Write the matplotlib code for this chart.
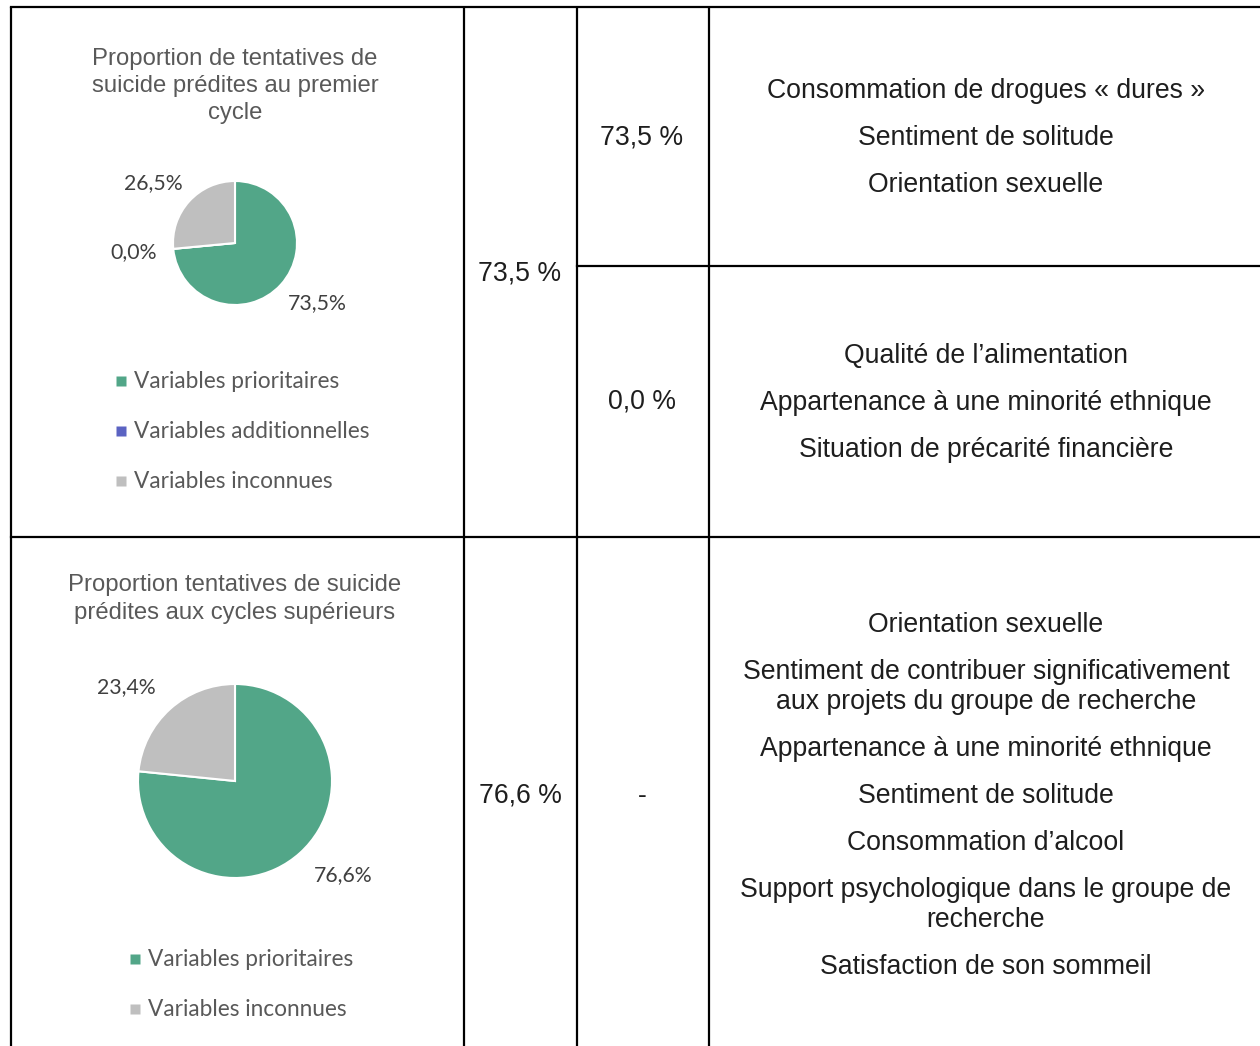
import matplotlib.pyplot as plt
import numpy as np

# pie chart data (percent)
cats_1 = ['Variables prioritaires', 'Variables additionnelles', 'Variables inconnues']
vals_1 = [73.5, 0.0, 26.5]
colors_1 = ['#52a688', '#5b63c2', '#bfbfbf']
cats_2 = ['Variables prioritaires', 'Variables inconnues']
vals_2 = [76.6, 23.4]
colors_2 = ['#52a688', '#bfbfbf']

title_1 = 'Proportion de tentatives de\nsuicide prédites au premier\ncycle'
title_2 = 'Proportion tentatives de suicide\nprédites aux cycles supérieurs'

# table cells
total_1 = '73,5 %'
total_2 = '76,6 %'
sub_1 = ['73,5 %', '0,0 %']
sub_2 = '-'
vars_1a = ['Consommation de drogues « dures »', 'Sentiment de solitude', 'Orientation sexuelle']
vars_1b = ['Qualité de l’alimentation', 'Appartenance à une minorité ethnique',
           'Situation de précarité financière']
vars_2 = ['Orientation sexuelle',
          'Sentiment de contribuer significativement\naux projets du groupe de recherche',
          'Appartenance à une minorité ethnique', 'Sentiment de solitude',
          'Consommation d’alcool',
          'Support psychologique dans le groupe de\nrecherche',
          'Satisfaction de son sommeil']

W, H = 1260, 1046
ARIAL = 'Liberation Sans'
CALIBRI = 'Lato'
GREY_TXT = '#595959'
TXT = '#1e1e1e'
FS_TAB = 19.2

fig = plt.figure(figsize=(W / 100, H / 100), dpi=100)
ax = fig.add_axes([0, 0, 1, 1])
ax.set_xlim(0, W)
ax.set_ylim(H, 0)
ax.axis('off')

# table grid
lw = 1.6
x_cols = [11, 464, 577, 709]
for x in x_cols:
    ax.plot([x, x], [7, H], color='black', lw=lw, solid_capstyle='butt')
ax.plot([x_cols[0], W], [7, 7], color='black', lw=lw)
ax.plot([x_cols[0], W], [537, 537], color='black', lw=lw)
ax.plot([x_cols[2], W], [266, 266], color='black', lw=lw)


def pct_fmt(p):
    return f'{p:.1f}%'.replace('.', ',')


def draw_pie(cx, cy, r, vals, colors, dist, rot=6):
    pax = fig.add_axes([(cx - r) / W, 1 - (cy + r) / H, 2 * r / W, 2 * r / H])
    wedges, texts, autotexts = pax.pie(vals, colors=colors, startangle=90, counterclock=False,
                                       autopct=pct_fmt, pctdistance=dist,
                                       wedgeprops=dict(edgecolor='white', linewidth=1.5))
    for v, t in zip(vals, autotexts):
        t.set_fontfamily(CALIBRI)
        t.set_fontsize(15.3)
        t.set_color('#404040')
        if v > 0:
            # excel "best fit" puts labels a bit off the wedge middle
            x, y = t.get_position()
            a = np.arctan2(y, x) + np.deg2rad(rot)
            d = np.hypot(x, y)
            t.set_position((d * np.cos(a), d * np.sin(a)))
    pax.set_xlim(-1, 1)
    pax.set_ylim(-1, 1)
    return wedges


def draw_legend(x, y0, step, cats, colors):
    for i, (c, col) in enumerate(zip(cats, colors)):
        y = y0 + i * step
        ax.plot(x, y, marker='s', ms=6.5, color=col, mec='none')
        ax.text(x + 13, y, c, family=CALIBRI, fontsize=16.3, color=GREY_TXT, va='center', ha='left')


def draw_list(xc, yc, items, step=47, inner=30):
    heights = [step + inner * s.count('\n') for s in items]
    total = sum(heights) - step
    y = yc - total / 2
    for s, h in zip(items, heights):
        for k, line in enumerate(s.split('\n')):
            ax.text(xc, y + k * inner, line, family=ARIAL, fontsize=FS_TAB, color=TXT,
                    ha='center', va='center')
        y += h


# pie 1
ax.text(235, 86, title_1, family=ARIAL, fontsize=17.2, color=GREY_TXT, ha='center', va='center',
        linespacing=1.32)
draw_pie(235, 243, 62, vals_1, colors_1, 1.64)
draw_legend(121, 381, 50, cats_1, colors_1)

# pie 2
ax.text(235, 599, title_2, family=ARIAL, fontsize=17.2, color=GREY_TXT, ha='center', va='center',
        linespacing=1.32)
draw_pie(235, 781, 97, vals_2, colors_2, 1.48, rot=7)
draw_legend(135, 959, 50, cats_2, colors_2)

# table text
ax.text(520, 273, total_1, family=ARIAL, fontsize=FS_TAB, color=TXT, ha='center', va='center')
ax.text(520, 796, total_2, family=ARIAL, fontsize=FS_TAB, color=TXT, ha='center', va='center')
ax.text(642, 137, sub_1[0], family=ARIAL, fontsize=FS_TAB, color=TXT, ha='center', va='center')
ax.text(642, 402, sub_1[1], family=ARIAL, fontsize=FS_TAB, color=TXT, ha='center', va='center')
ax.text(642, 796, sub_2, family=ARIAL, fontsize=FS_TAB, color=TXT, ha='center', va='center')

draw_list(986, 138, vars_1a)
draw_list(986, 403, vars_1b)
draw_list(986, 796, vars_2)

fig.savefig('out.png', dpi=100)
